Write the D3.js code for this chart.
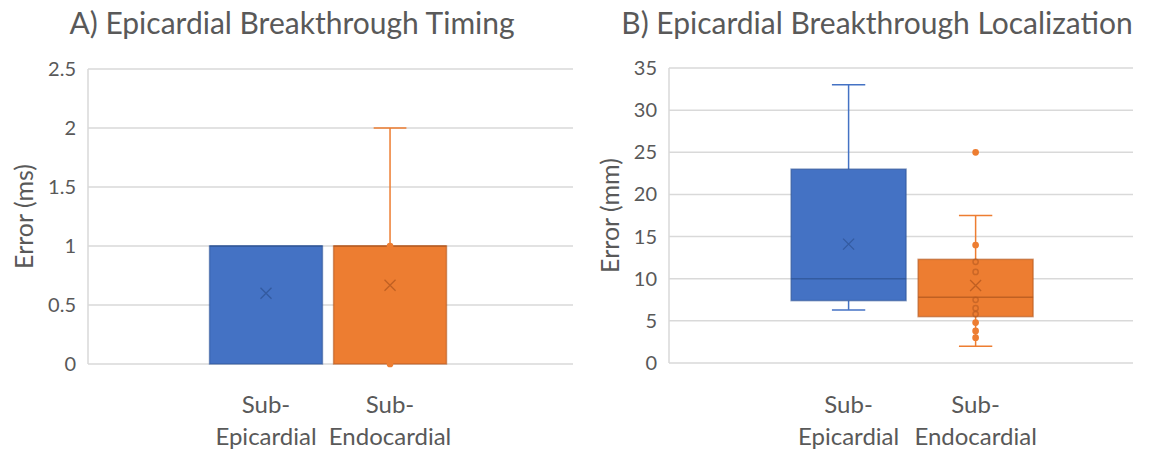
<!DOCTYPE html>
<html>
<head>
<meta charset="utf-8">
<script src="https://cdn.jsdelivr.net/npm/d3@7"></script>
<style>
  body { margin: 0; background: #fff; }
  svg { display: block; font-family: Lato, "Open Sans", sans-serif; }
</style>
</head>
<body>
<div id="chart"></div>
<script>
const width = 1156;
const height = 453;

// categories (same for both panels)
const categories = ["Sub-Epicardial", "Sub-Endocardial"];
const categoryLines = [["Sub-", "Epicardial"], ["Sub-", "Endocardial"]];
const seriesColors = ["#4472C4", "#ED7D31"];
const darkColors = ["#2F5597", "#B4591F"];

// A) timing, ms
const timingTicks = [0, 0.5, 1, 1.5, 2, 2.5];
const timingMin = [0, 0];
const timingQ1 = [0, 0];
const timingMedian = [1, 1];
const timingQ3 = [1, 1];
const timingMax = [1, 2];
const timingMean = [0.6, 0.667];
const timingPoints = [[], [0, 1]];

// B) localization, mm
const locTicks = [0, 5, 10, 15, 20, 25, 30, 35];
const locMin = [6.3, 2];
const locQ1 = [7.4, 5.5];
const locMedian = [10, 7.8];
const locQ3 = [23, 12.3];
const locMax = [33, 17.5];
const locMean = [14.1, 9.2];
const locPoints = [[], [25, 14, 12, 10.8, 7.5, 6.5, 5.8, 4.8, 3.8, 3]];

const svg = d3.create("svg")
    .attr("width", width)
    .attr("height", height)
    .attr("viewBox", [0, 0, width, height]);

function panel(cfg) {
    const g = svg.append("g");

    const y = d3.scaleLinear()
        .domain(d3.extent(cfg.ticks))
        .range([cfg.bottom, cfg.top]);

    const x = d3.scaleBand()
        .domain(categories)
        .range([cfg.left, cfg.right])
        .paddingInner(cfg.gap)
        .paddingOuter(cfg.outer)
        .align(cfg.align);

    // gridlines
    g.append("g")
        .selectAll("line")
        .data(cfg.ticks)
        .join("line")
        .attr("x1", cfg.left)
        .attr("x2", cfg.right)
        .attr("y1", d => y(d))
        .attr("y2", d => y(d))
        .attr("stroke", "#D9D9D9")
        .attr("stroke-width", 1.5);

    g.append("line")
        .attr("x1", cfg.left).attr("x2", cfg.left)
        .attr("y1", y.range()[1]).attr("y2", y.range()[0])
        .attr("stroke", "#D9D9D9")
        .attr("stroke-width", 1.5);

    // tick labels
    g.append("g")
        .selectAll("text")
        .data(cfg.ticks)
        .join("text")
        .attr("x", cfg.left - 12)
        .attr("y", d => y(d))
        .attr("dy", "0.35em")
        .attr("text-anchor", "end")
        .attr("fill", "#595959")
        .attr("font-size", 20)
        .text(d3.format(""));

    // y axis title
    g.append("text")
        .attr("transform", `translate(${cfg.yLabelX},${(cfg.top + cfg.bottom) / 2}) rotate(-90)`)
        .attr("dy", "0.35em")
        .attr("text-anchor", "middle")
        .attr("fill", "#595959")
        .attr("font-size", 25)
        .text(cfg.yLabel);

    // title
    g.append("text")
        .attr("x", cfg.titleX)
        .attr("y", 34)
        .attr("text-anchor", "middle")
        .attr("fill", "#595959")
        .attr("font-size", 30)
        .text(cfg.title);

    // category labels
    const lab = g.append("g")
        .selectAll("text")
        .data(categories)
        .join("text")
        .attr("text-anchor", "middle")
        .attr("fill", "#595959")
        .attr("font-size", 24);
    lab.each(function (d, i) {
        const cx = x(d) + x.bandwidth() / 2;
        d3.select(this).selectAll("tspan")
            .data(categoryLines[i])
            .join("tspan")
            .attr("x", cx)
            .attr("y", (t, j) => 413 + j * 32)
            .text(t => t);
    });

    const s = cfg.stats;
    const bw = x.bandwidth();
    const capW = bw * 0.29;

    categories.forEach((c, i) => {
        const x0 = x(c);
        const cx = x0 + bw / 2;
        const col = seriesColors[i];
        const dark = darkColors[i];
        const box = g.append("g");

        // whiskers
        if (s.max[i] > s.q3[i]) {
            box.append("line")
                .attr("x1", cx).attr("x2", cx)
                .attr("y1", y(s.q3[i])).attr("y2", y(s.max[i]))
                .attr("stroke", col).attr("stroke-width", 1.5);
            box.append("line")
                .attr("x1", cx - capW / 2).attr("x2", cx + capW / 2)
                .attr("y1", y(s.max[i])).attr("y2", y(s.max[i]))
                .attr("stroke", col).attr("stroke-width", 1.5);
        }
        if (s.min[i] < s.q1[i]) {
            box.append("line")
                .attr("x1", cx).attr("x2", cx)
                .attr("y1", y(s.q1[i])).attr("y2", y(s.min[i]))
                .attr("stroke", col).attr("stroke-width", 1.5);
            box.append("line")
                .attr("x1", cx - capW / 2).attr("x2", cx + capW / 2)
                .attr("y1", y(s.min[i])).attr("y2", y(s.min[i]))
                .attr("stroke", col).attr("stroke-width", 1.5);
        }

        box.append("rect")
            .attr("x", x0)
            .attr("y", y(s.q3[i]))
            .attr("width", bw)
            .attr("height", y(s.q1[i]) - y(s.q3[i]))
            .attr("fill", col)
            .attr("stroke", dark)
            .attr("stroke-opacity", 0.6)
            .attr("stroke-width", 1.5);

        box.append("line")
            .attr("x1", x0).attr("x2", x0 + bw)
            .attr("y1", y(s.median[i])).attr("y2", y(s.median[i]))
            .attr("stroke", dark)
            .attr("stroke-opacity", 0.8)
            .attr("stroke-width", 1.5);

        // points
        box.selectAll("circle")
            .data(s.points[i])
            .join("circle")
            .attr("cx", cx)
            .attr("cy", d => y(d))
            .attr("r", 2.6)
            .attr("fill", d => (d > s.q1[i] && d < s.q3[i]) ? "none" : col)
            .attr("stroke", d => (d > s.q1[i] && d < s.q3[i]) ? dark : col)
            .attr("stroke-opacity", d => (d > s.q1[i] && d < s.q3[i]) ? 0.6 : 1)
            .attr("stroke-width", 1.5);

        // mean marker
        const m = 5.5;
        const my = y(s.mean[i]);
        box.append("path")
            .attr("d", `M${cx - m},${my - m}L${cx + m},${my + m}M${cx - m},${my + m}L${cx + m},${my - m}`)
            .attr("stroke", dark)
            .attr("stroke-opacity", 0.8)
            .attr("stroke-width", 1.3);
    });
}

panel({
    left: 88, right: 573, top: 69, bottom: 364,
    ticks: timingTicks,
    gap: 0.09, outer: 1.0, align: 0.49,
    title: "A) Epicardial Breakthrough Timing", titleX: 292,
    yLabel: "Error (ms)", yLabelX: 24,
    stats: { min: timingMin, q1: timingQ1, median: timingMedian, q3: timingQ3, max: timingMax, mean: timingMean, points: timingPoints }
});

panel({
    left: 669, right: 1133, top: 68, bottom: 363,
    ticks: locTicks,
    gap: 0.095, outer: 0.874, align: 0.55,
    title: "B) Epicardial Breakthrough Localization", titleX: 877,
    yLabel: "Error (mm)", yLabelX: 610,
    stats: { min: locMin, q1: locQ1, median: locMedian, q3: locQ3, max: locMax, mean: locMean, points: locPoints }
});

document.getElementById("chart").appendChild(svg.node());
</script>
</body>
</html>
